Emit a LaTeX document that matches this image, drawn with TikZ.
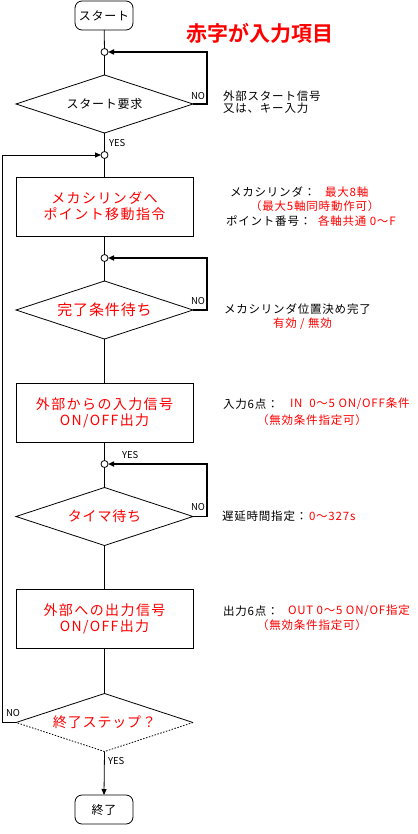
\documentclass[tikz,border=0pt]{standalone}
\usepackage{fontspec}
\setmainfont{Noto Sans CJK JP}[BoldFont={Noto Sans CJK JP Bold}]
\usetikzlibrary{shapes.geometric,arrows.meta}
\definecolor{rd}{RGB}{255,0,0}
\newcommand{\lsp}[1]{\addfontfeatures{LetterSpace=#1}}
\begin{document}
\begin{tikzpicture}[x=1pt,y=-1pt,
  every node/.style={inner sep=0pt, outer sep=0pt},
  ln/.style={line width=0.8pt},
  lp/.style={line width=1.6pt},
  tip/.style={-{Triangle[length=6pt,width=5pt]}},
  term/.style={draw, ln, rounded corners=7pt, minimum width=58pt, minimum height=29pt, font=\fontsize{12}{14}\selectfont\lsp{6}},
  proc/.style={draw, ln, minimum width=177pt, minimum height=59pt, align=center, text=rd, font=\fontsize{14}{16}\selectfont\lsp{10}},
  dec/.style={diamond, aspect=3, minimum width=177pt, minimum height=58pt},
  jn/.style={circle, draw, ln, fill=white, minimum size=7pt},
  side/.style={anchor=west, font=\fontsize{11.5}{13}\selectfont\lsp{7}},
  sider/.style={side, text=rd},
  yn/.style={font=\fontsize{9.5}{11}\selectfont, anchor=west}
]
\useasboundingbox (0,0) rectangle (417,834);

% main nodes
\node[term] (start) at (104,15.5) {スタート};
\node[jn] (j1) at (104.5,52) {};
\node[dec, draw, ln, font=\fontsize{12}{14}\selectfont\lsp{6}] (d1) at (104.5,104) {スタート要求};
\node[jn] (j2) at (104.5,155) {};
\node[proc] (b1) at (104.5,206.5) {メカシリンダへ\\ポイント移動指令};
\node[jn] (j3) at (104.5,258) {};
\node[dec, draw, ln, text=rd, font=\fontsize{15}{17}\selectfont\lsp{6}] (d2) at (104.5,310) {完了条件待ち};
\node[proc] (b2) at (104.5,412.5) {外部からの入力信号\\ON/OFF出力};
\node[jn] (j4) at (104.5,464) {};
\node[dec, draw, ln, text=rd, font=\fontsize{14}{16}\selectfont\lsp{6}] (d3) at (104.5,516.5) {タイマ待ち};
\node[proc] (b3) at (104.5,619) {外部への出力信号\\ON/OFF出力};
\node[dec, text=rd, font=\fontsize{14}{16}\selectfont\lsp{6}] (d4) at (104.5,722.5) {終了ステップ？};
\node[term] (end) at (104,809.5) {終了};

% last diamond outline: upper solid, lower dashed
\draw[ln] (d4.west) -- (d4.north) -- (d4.east);
\draw[ln, dash pattern=on 1.5pt off 1.5pt] (d4.east) -- (d4.south) -- (d4.west);

% main flow
\draw[ln] (start) -- (j1);
\draw[ln] (j1) -- (d1.north);
\draw[ln] (d1.south) -- (j2);
\draw[ln] (j2) -- (b1.north);
\draw[ln] (b1.south) -- (j3);
\draw[ln] (j3) -- (d2.north);
\draw[ln] (d2.south) -- (b2.north);
\draw[ln] (b2.south) -- (j4);
\draw[ln] (j4) -- (d3.north);
\draw[ln] (d3.south) -- (b3.north);
\draw[ln] (b3.south) -- (d4.north);
\draw[ln, tip] (d4.south) -- (end.north);

% NO loops
\draw[lp, tip] (d1.east) -- ++(14,0) |- (j1.east);
\draw[lp, tip] (d2.east) -- ++(14,0) |- (j3.east);
\draw[lp, tip] (d3.east) -- ++(14,0) |- (j4.east);
\coordinate (lft) at (2,722.5);
\draw[ln, tip] (d4.west) -- (lft) |- (j2.west);

% YES / NO labels
\node[yn] (no1) at (191,96) {NO};
\node[yn] (yes1) at (109,143) {YES};
\node[yn] (no2) at (191,301) {NO};
\node[yn] (yes3) at (122,455) {YES};
\node[yn] (no3) at (191,507) {NO};
\node[yn] (no4) at (6,713) {NO};
\node[yn] (yes4) at (108,761) {YES};

% title
\node[anchor=west, text=rd, font=\fontsize{21}{24}\bfseries] (title) at (186,33) {赤字が入力項目};

% side notes
\node[side] (s1a) at (223,96) {外部スタート信号};
\node[side] (s1b) at (223,108) {又は、キー入力};

\node[side] (s2a) at (230,192) {メカシリンダ：};
\node[sider] (s2b) at (325,192) {最大8軸};
\node[sider] (s2c) at (250,206) {（最大5軸同時動作可）};
\node[side] (s2d) at (226,221) {ポイント番号：};
\node[sider] (s2e) at (318,221) {各軸共通 0～F};

\node[side] (s3a) at (224,309) {メカシリンダ位置決め完了};
\node[sider] (s3b) at (273,324) {有効 / 無効};

\node[side] (s4a) at (223,404) {入力6点：};
\node[sider] (s4b) at (290,404) {IN\ \ 0～5 ON/OFF条件};
\node[sider] (s4c) at (257,420) {（無効条件指定可）};

\node[side] (s5a) at (222,516) {遅延時間指定：};
\node[sider] (s5b) at (309,516) {0～327s};

\node[side] (s6a) at (223,611) {出力6点：};
\node[sider] (s6b) at (288,611) {OUT 0～5 ON/OF指定};
\node[sider] (s6c) at (257,625) {（無効条件指定可）};
\end{tikzpicture}
\end{document}
